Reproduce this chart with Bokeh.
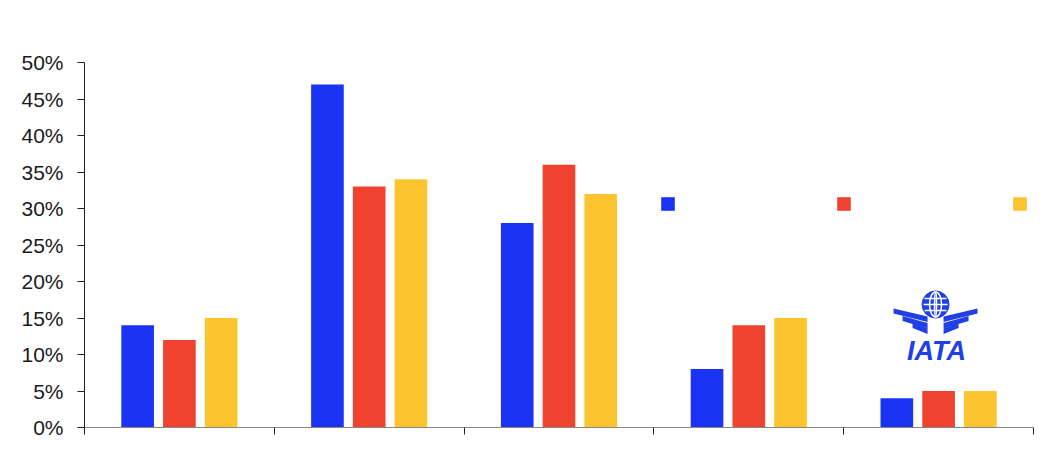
from bokeh.plotting import figure
from bokeh.models import (ColumnDataSource, Range1d, FixedTicker, Legend, LegendItem, Label)
from bokeh.embed import file_html
from bokeh.resources import INLINE

# ---- data ----
categories = ["Category 1", "Category 2", "Category 3", "Category 4", "Category 5"]
series_names = ["Series A", "Series B", "Series C"]
series_a = [14, 47, 28, 8, 4]
series_b = [12, 33, 36, 14, 5]
series_c = [15, 34, 32, 15, 5]
y_ticks = [0, 5, 10, 15, 20, 25, 30, 35, 40, 45, 50]
y_tick_labels = ["0%", "5%", "10%", "15%", "20%", "25%", "30%", "35%", "40%", "45%", "50%"]

colors = ["#1B33F2", "#F0432F", "#FCC42F"]
logo_blue = "#2040E6"

p = figure(width=1050, height=445, frame_width=949, frame_height=365,
           output_backend="svg", toolbar_location=None,
           x_range=Range1d(0, len(categories)), y_range=Range1d(0, 50),
           min_border_left=84, min_border_top=62, min_border_right=17, min_border_bottom=18)
p.outline_line_color = None
p.grid.grid_line_color = None
p.background_fill_color = "white"
p.border_fill_color = "white"

offsets = [-0.22, 0.0, 0.22]
bar_w = 0.172
renderers = []
for vals, off, col in zip([series_a, series_b, series_c], offsets, colors):
    src = ColumnDataSource(dict(x=[i + 0.5 + off for i in range(len(categories))], top=vals,
                                cat=categories))
    r = p.vbar(x="x", top="top", bottom=0, width=bar_w, source=src,
               fill_color=col, line_color=None)
    renderers.append(r)

# axes
p.yaxis.ticker = FixedTicker(ticks=y_ticks)
p.yaxis.major_label_overrides = dict(zip(y_ticks, y_tick_labels))
p.yaxis.major_label_text_font = "Liberation Sans"
p.yaxis.major_label_text_font_size = "21px"
p.yaxis.major_label_text_color = "#1a1a1a"
p.yaxis.major_label_standoff = 14
p.yaxis.major_tick_out = 7
p.yaxis.major_tick_in = 0
p.yaxis.minor_tick_line_color = None
p.yaxis.axis_line_color = "#222222"
p.yaxis.major_tick_line_color = "#222222"

p.xaxis.ticker = FixedTicker(ticks=list(range(len(categories) + 1)))
p.xaxis.major_label_text_color = None
p.xaxis.major_label_text_font_size = "1px"
p.xaxis.major_tick_out = 7
p.xaxis.major_tick_in = 0
p.xaxis.minor_tick_line_color = None
p.xaxis.axis_line_color = "#888888"
p.xaxis.major_tick_line_color = "#222222"

# legend (labels not legible in the reference)
legend = Legend(items=[LegendItem(label=" ", renderers=[r]) for r in renderers],
                orientation="horizontal", location=(574.5, 215.5),
                glyph_width=17, glyph_height=17, label_width=20, label_height=17,
                label_standoff=5, spacing=134, padding=0, margin=0,
                border_line_color=None, background_fill_alpha=0,
                label_text_font_size="8px")
p.add_layout(legend, "center")

# IATA logo (decorative), offsets in screen pixels from globe centre
ax, ay = 4.484, 16.85   # globe centre, data units
sx, sy = 1 / 189.8, 1 / 7.3
p.scatter([ax], [ay], size=27, fill_color=logo_blue, line_color=logo_blue)
p.ellipse([ax, ax], [ay, ay], width=[12, 2], height=[25, 25], width_units="screen",
          height_units="screen", fill_color=None, line_color="white", line_width=1.5)
p.segment([ax - 12 * sx, ax - 11 * sx, ax - 11 * sx], [ay, ay + 6 * sy, ay - 6 * sy],
          [ax + 12 * sx, ax + 11 * sx, ax + 11 * sx], [ay, ay + 6 * sy, ay - 6 * sy],
          line_color="white", line_width=1.5)
stripes = [((-42, 4), (-8, 12)), ((-33, 11.5), (-8, 18.5)), ((-23, 18.5), (-8, 24))]
wing_xs, wing_ys = [], []
for side in (-1, 1):
    for (ox, oy), (ix, iy) in stripes:
        pts = [(ox, oy), (ix, iy), (ix, iy + 5.5), (ox, oy + 5)]
        wing_xs.append([ax - side * px * sx for px, py in pts])
        wing_ys.append([ay - py * sy for px, py in pts])
p.patches(wing_xs, wing_ys, fill_color=logo_blue, line_color=None)
p.add_layout(Label(x=ax + 1 * sx, y=ay - 47 * sy, text="IATA", text_align="center",
                   text_baseline="alphabetic",
                   text_font="Liberation Sans", text_font_style="bold italic",
                   text_font_size="27px", text_color=logo_blue))

open("out.html", "w").write(file_html(p, INLINE))
